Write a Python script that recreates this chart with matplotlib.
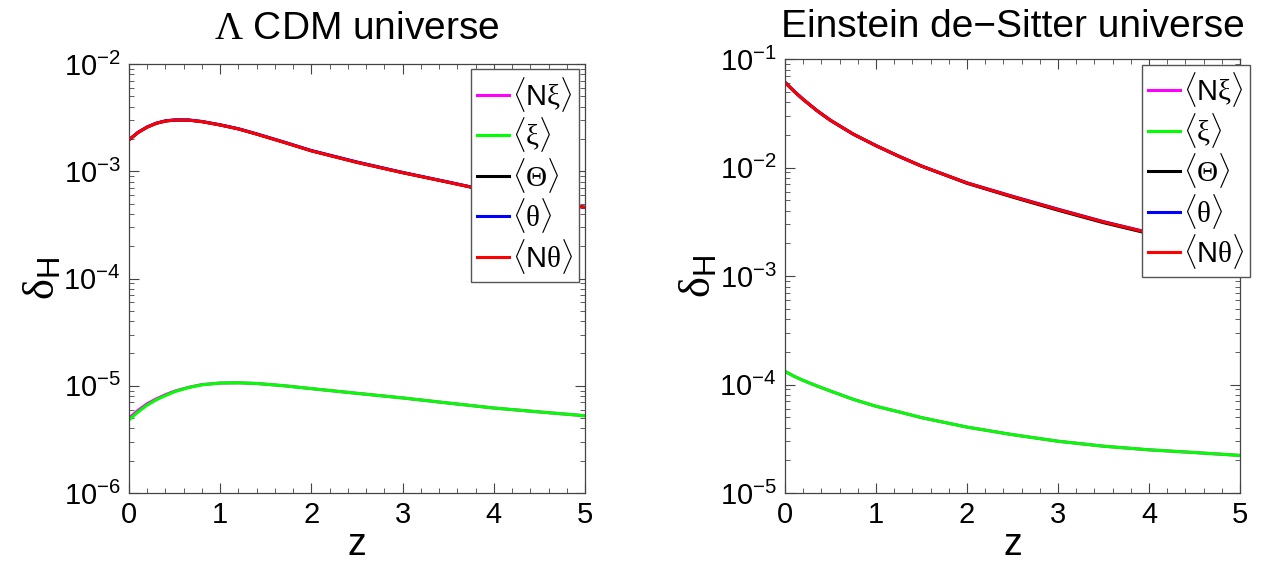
import matplotlib
matplotlib.use('Agg')
import matplotlib.pyplot as plt
from matplotlib.ticker import MultipleLocator, LogLocator, NullFormatter

plt.rcParams['font.family'] = ['Liberation Sans', 'DejaVu Sans']
plt.rcParams['mathtext.fontset'] = 'custom'
plt.rcParams['mathtext.rm'] = 'Liberation Sans'
plt.rcParams['mathtext.it'] = 'Liberation Serif'
plt.rcParams['mathtext.sf'] = 'Liberation Serif'

# --- Lambda CDM panel ---
z_lcdm = [0, 0.1, 0.2, 0.3, 0.4, 0.5, 0.65, 0.8, 1.0, 1.2, 1.4, 1.7,
          2.0, 2.5, 3.0, 3.5, 4.0, 4.5, 5.0]
lcdm_Theta = [1.96e-3, 2.30e-3, 2.58e-3, 2.80e-3, 2.94e-3, 3.00e-3, 3.00e-3, 2.90e-3,
              2.70e-3, 2.48e-3, 2.22e-3, 1.86e-3, 1.55e-3, 1.21e-3, 9.7e-4, 7.9e-4,
              6.4e-4, 5.4e-4, 4.6e-4]
lcdm_theta = [1.97e-3, 2.31e-3, 2.59e-3, 2.81e-3, 2.95e-3, 3.01e-3, 3.01e-3, 2.91e-3,
              2.71e-3, 2.49e-3, 2.23e-3, 1.87e-3, 1.56e-3, 1.22e-3, 9.75e-4, 7.93e-4,
              6.42e-4, 5.41e-4, 4.6e-4]
lcdm_Ntheta = lcdm_Theta
lcdm_xi = [4.8e-6, 5.7e-6, 6.6e-6, 7.4e-6, 8.1e-6, 8.8e-6, 9.6e-6, 1.02e-5,
           1.06e-5, 1.065e-5, 1.05e-5, 1.0e-5, 9.4e-6, 8.5e-6, 7.7e-6, 6.9e-6,
           6.2e-6, 5.7e-6, 5.25e-6]
lcdm_Nxi = [5.0e-6, 5.9e-6, 6.8e-6, 7.55e-6, 8.25e-6, 8.9e-6, 9.65e-6, 1.025e-5,
            1.06e-5, 1.065e-5, 1.05e-5, 1.0e-5, 9.4e-6, 8.5e-6, 7.7e-6, 6.9e-6,
            6.2e-6, 5.7e-6, 5.25e-6]

# --- Einstein de-Sitter panel ---
z_eds = [0, 0.1, 0.2, 0.35, 0.5, 0.75, 1.0, 1.25, 1.5, 2.0, 2.5, 3.0, 3.5, 4.0, 4.5, 5.0]
eds_Ntheta = [0.0610, 0.0504, 0.0424, 0.0335, 0.0272, 0.0203, 0.0159, 0.0127, 0.0103,
              7.2e-3, 5.4e-3, 4.1e-3, 3.15e-3, 2.5e-3, 2.05e-3, 1.74e-3]
eds_Theta = [0.0610, 0.0504, 0.0424, 0.0335, 0.0272, 0.0203, 0.0159, 0.0127, 0.0103,
             7.15e-3, 5.34e-3, 4.04e-3, 3.1e-3, 2.46e-3, 2.02e-3, 1.72e-3]
eds_theta = [0.0610, 0.0504, 0.0424, 0.0335, 0.0272, 0.0203, 0.0159, 0.0127, 0.0103,
             7.22e-3, 5.43e-3, 4.13e-3, 3.17e-3, 2.51e-3, 2.06e-3, 1.74e-3]
eds_xi = [1.32e-4, 1.19e-4, 1.09e-4, 9.7e-5, 8.7e-5, 7.3e-5, 6.3e-5, 5.6e-5, 4.95e-5,
          4.05e-5, 3.45e-5, 3.0e-5, 2.7e-5, 2.5e-5, 2.36e-5, 2.22e-5]
eds_Nxi = eds_xi

labels = [r'$\langle\mathrm{N}\mathsf{\xi}\rangle$', r'$\langle\mathsf{\xi}\rangle$',
          r'$\langle\mathsf{\Theta}\rangle$', r'$\langle\mathsf{\theta}\rangle$',
          r'$\langle\mathrm{N}\mathsf{\theta}\rangle$']
colors = ['#ff00ff', '#00ff00', 'black', '#0000ff', '#ff0000']


def draw_panel(ax, z, series, title, ylim, leg_anchor, title_pad):
    for ys, c, lab in zip(series, colors, labels):
        ax.plot(z, ys, color=c, lw=2.2, label=lab)
    ax.set_yscale('log')
    ax.set_xlim(0, 5)
    ax.set_ylim(*ylim)
    ax.xaxis.set_major_locator(MultipleLocator(1))
    ax.xaxis.set_minor_locator(MultipleLocator(0.2))
    ax.yaxis.set_major_locator(LogLocator(base=10, numticks=10))
    ax.yaxis.set_minor_locator(LogLocator(base=10, subs=range(2, 10), numticks=50))
    ax.yaxis.set_minor_formatter(NullFormatter())
    ax.tick_params(which='both', direction='in', top=True, right=True, labelsize=21,
                   color='#444444', pad=6)
    ax.tick_params(which='major', length=7, width=0.8)
    ax.tick_params(which='minor', length=3.5, width=0.6)
    for sp in ax.spines.values():
        sp.set_color('#444444')
        sp.set_linewidth(0.9)
    ax.set_xlabel('z', fontsize=27, labelpad=-2)
    ax.set_ylabel(r'$\mathsf{\delta}_\mathrm{H}$', fontsize=32, labelpad=0)
    ax.set_title(title, fontsize=28, pad=title_pad)
    leg = ax.legend(loc='upper right', bbox_to_anchor=leg_anchor, fontsize=21,
                    fancybox=False, framealpha=1, edgecolor='#555555',
                    handlelength=1.1, handletextpad=0.1, borderpad=0.2,
                    labelspacing=0.05, borderaxespad=0)
    leg.get_frame().set_linewidth(1.0)


fig = plt.figure(figsize=(12.76, 5.67), dpi=100)
ax1 = fig.add_axes([129/1276, 1 - 493/567, 456/1276, 429/567])
ax2 = fig.add_axes([785/1276, 1 - 493/567, 455/1276, 434/567])

draw_panel(ax1, z_lcdm, [lcdm_Nxi, lcdm_xi, lcdm_Theta, lcdm_theta, lcdm_Ntheta],
           r'$\mathsf{\Lambda}$ CDM universe', (1e-6, 1e-2), (0.987, 0.988), 18)
draw_panel(ax2, z_eds, [eds_Nxi, eds_xi, eds_Theta, eds_theta, eds_Ntheta],
           'Einstein de\u2212Sitter universe', (1e-5, 1e-1), (1.022, 0.987), 16)

fig.savefig('out.png', dpi=100)
